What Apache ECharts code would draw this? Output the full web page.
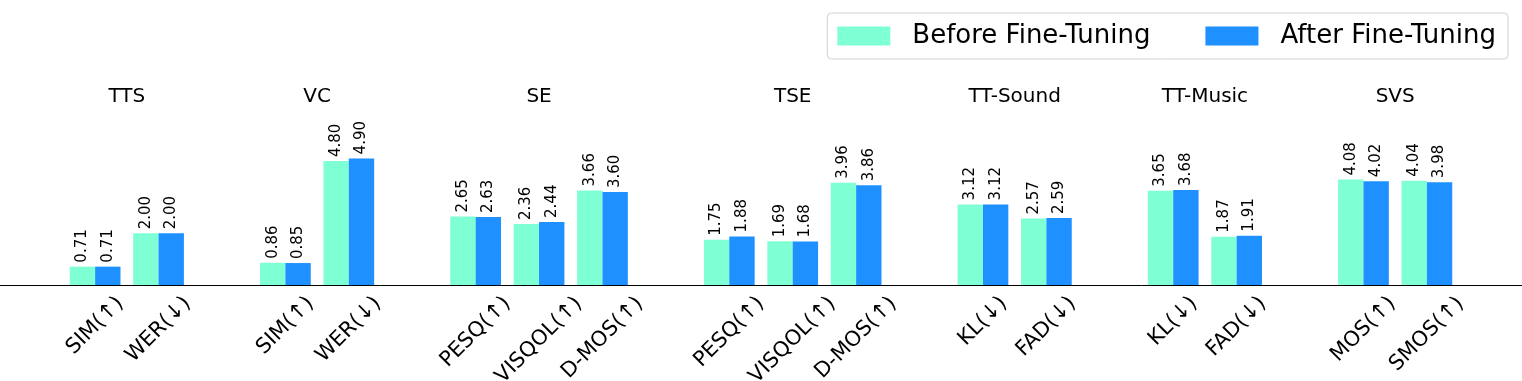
<!DOCTYPE html>
<html>
<head>
<meta charset="utf-8">
<script src="https://cdn.jsdelivr.net/npm/echarts@6/dist/echarts.min.js"></script>
<style>
html,body{margin:0;padding:0;background:#fff;}
#chart{width:1522px;height:381px;}
</style>
</head>
<body>
<div id="chart"></div>
<script>
const tasks = ['TTS', 'VC', 'SE', 'TSE', 'TT-Sound', 'TT-Music', 'SVS'];
const metrics = [
  ['SIM(↑)', 'WER(↓)'],
  ['SIM(↑)', 'WER(↓)'],
  ['PESQ(↑)', 'VISQOL(↑)', 'D-MOS(↑)'],
  ['PESQ(↑)', 'VISQOL(↑)', 'D-MOS(↑)'],
  ['KL(↓)', 'FAD(↓)'],
  ['KL(↓)', 'FAD(↓)'],
  ['MOS(↑)', 'SMOS(↑)']
];
const beforeFT = [[0.71, 2.00], [0.86, 4.80], [2.65, 2.36, 3.66], [1.75, 1.69, 3.96], [3.12, 2.57], [3.65, 1.87], [4.08, 4.04]];
const afterFT  = [[0.71, 2.00], [0.85, 4.90], [2.63, 2.44, 3.60], [1.88, 1.68, 3.86], [3.12, 2.59], [3.68, 1.91], [4.02, 3.98]];
const seriesNames = ['Before Fine-Tuning', 'After Fine-Tuning'];
const colors = ['#7fffd4', '#1e90ff'];

const FONT = 'DejaVu Sans';
const cats = [''], before = [null], after = [null], groups = [];
tasks.forEach((t, ti) => {
  if (ti > 0) { cats.push(''); before.push(null); after.push(null); }
  const start = cats.length;
  metrics[ti].forEach((m, mi) => { cats.push(m); before.push(beforeFT[ti][mi]); after.push(afterFT[ti][mi]); });
  groups.push({ name: t, start: start, end: cats.length - 1 });
});
cats.push(''); before.push(null); after.push(null);

const chart = echarts.init(document.getElementById('chart'));
const valLabel = {
  show: true, position: 'top', rotate: 90, align: 'left', verticalAlign: 'middle', distance: 4,
  fontFamily: FONT, fontSize: 15, color: '#000',
  formatter: p => (p.value == null ? '' : Number(p.value).toFixed(2))
};
chart.setOption({
  backgroundColor: '#fff',
  animation: false,
  textStyle: { fontFamily: FONT },
  grid: { left: 0, right: 0, top: 130, bottom: 96, containLabel: false },
  legend: {
    data: seriesNames, right: 14, top: 13, icon: 'rect', itemWidth: 53, itemHeight: 19, itemGap: 55,
    borderColor: '#d0d0d0', borderWidth: 1, borderRadius: 4, padding: [10, 12, 10, 10],
    textStyle: { fontFamily: FONT, fontSize: 26, color: '#000', padding: [0, 0, 0, 17] }
  },
  xAxis: {
    type: 'category', data: cats, boundaryGap: true,
    axisLine: { lineStyle: { color: '#000', width: 1 } },
    axisTick: { alignWithLabel: true, length: 5, interval: (i, v) => v !== '', lineStyle: { color: '#000' } },
    axisLabel: { show: false }
  },
  yAxis: { type: 'value', min: 0, max: 6, show: false, splitLine: { show: false } },
  series: [
    { name: seriesNames[0], type: 'bar', data: before, barWidth: '40%', barGap: '0%', itemStyle: { color: colors[0] }, label: valLabel },
    { name: seriesNames[1], type: 'bar', data: after, barWidth: '40%', barGap: '0%', itemStyle: { color: colors[1] }, label: valLabel }
  ]
});

const cv = document.createElement('canvas').getContext('2d');
const LABEL_SIZE = 21;
cv.font = LABEL_SIZE + 'px "' + FONT + '"';
const y0 = chart.convertToPixel({ yAxisIndex: 0 }, 0);
const elements = [];
cats.forEach((c, i) => {
  if (!c) return;
  const x = chart.convertToPixel({ xAxisIndex: 0 }, i);
  const L = cv.measureText(c).width;
  const h = LABEL_SIZE;
  const cy = y0 + 8 + 0.354 * (L + h);
  elements.push({
    type: 'text', x: x, y: cy, rotation: Math.PI / 4,
    style: { text: c, font: LABEL_SIZE + 'px "' + FONT + '"', fill: '#000', align: 'center', verticalAlign: 'middle', textAlign: 'center', textVerticalAlign: 'middle' }
  });
});
groups.forEach(g => {
  const x = (chart.convertToPixel({ xAxisIndex: 0 }, g.start) + chart.convertToPixel({ xAxisIndex: 0 }, g.end)) / 2;
  elements.push({
    type: 'text', x: x, y: 97,
    style: { text: g.name, font: '20px "' + FONT + '"', fill: '#000', align: 'center', verticalAlign: 'middle', textAlign: 'center', textVerticalAlign: 'middle' }
  });
});
chart.setOption({ graphic: { elements: elements } });
</script>
</body>
</html>
